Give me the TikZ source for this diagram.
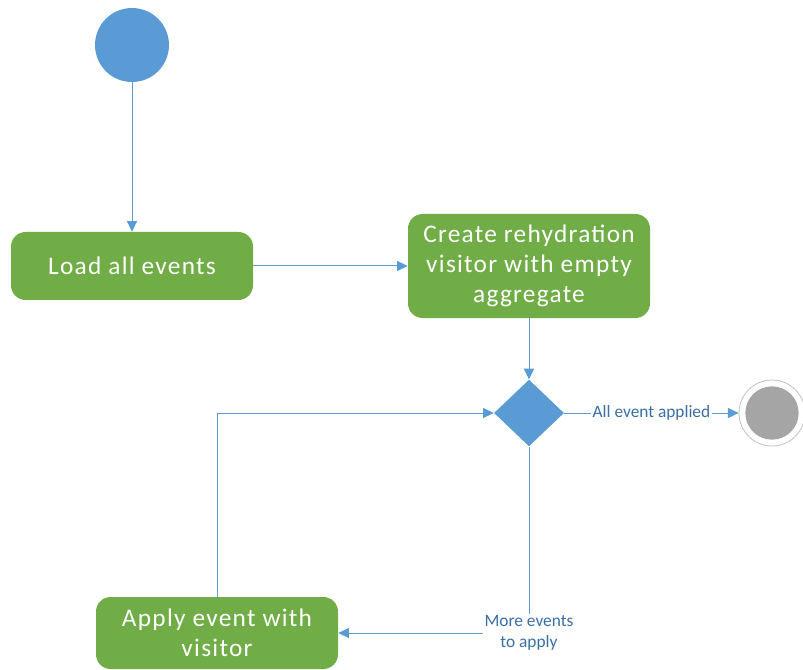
\documentclass[tikz,border=0pt]{standalone}
\usepackage{fontspec}
\setmainfont{Carlito}
\newfontfamily\boxfont[LetterSpace=5]{Carlito}
\usetikzlibrary{shapes.geometric, arrows.meta, positioning}
\definecolor{flowblue}{HTML}{5B9BD5}
\definecolor{flowgreen}{HTML}{70AD47}
\definecolor{guardtext}{HTML}{3A6EA5}
\definecolor{endgray}{HTML}{A5A5A5}
\tikzset{
  action/.style={rectangle, rounded corners=11pt, fill=flowgreen, text=white,
    minimum width=181.5pt, inner sep=0pt, align=center,
    font=\boxfont\fontsize{19}{22.5}\selectfont},
  flow/.style={draw=flowblue, line width=0.75pt, -{Triangle[length=8pt,width=7.5pt]}},
  guard/.style={fill=white, text=guardtext, inner sep=1pt, align=center,
    font=\fontsize{13}{15.5}\selectfont}
}

\begin{document}
\begin{tikzpicture}[x=0.75pt, y=-0.75pt]
        \useasboundingbox (0,0) rectangle (803,670);
        % Start and end states
        \node[circle, fill=flowblue, minimum size=55.5pt, inner sep=0pt] (start) at (132,45) {};
        \node[circle, draw=endgray!70, line width=0.6pt, minimum size=49.5pt, inner sep=0pt] (finish) at (772,413) {};
        \fill[endgray] (finish.center) circle (20pt);
        % Actions
        \node[action, minimum height=51pt] (load) at (132,266) {Load all events};
        \node[action, minimum height=78pt] (create) at (529,266) {Create rehydration\\visitor with empty\\aggregate};
        \node[action, minimum height=54pt] (apply) at (217,633) {Apply event with\\visitor};
        % Decision
        \node[diamond, fill=flowblue, minimum width=52.5pt, minimum height=50pt, inner sep=0pt] (choice) at (529,413) {};
        % Connectors
        \draw[flow] (start) -- (load);
        \draw[flow] (load) -- (create);
        \draw[flow] (create) -- (choice);
        \draw[flow] (choice) -- node[guard] {All event applied} (finish);
        \draw[flow] (choice.south) |- node[guard] {More events\\to apply} (apply);
        \draw[flow] (apply.north) |- (choice.west);
    \end{tikzpicture}
\end{document}
